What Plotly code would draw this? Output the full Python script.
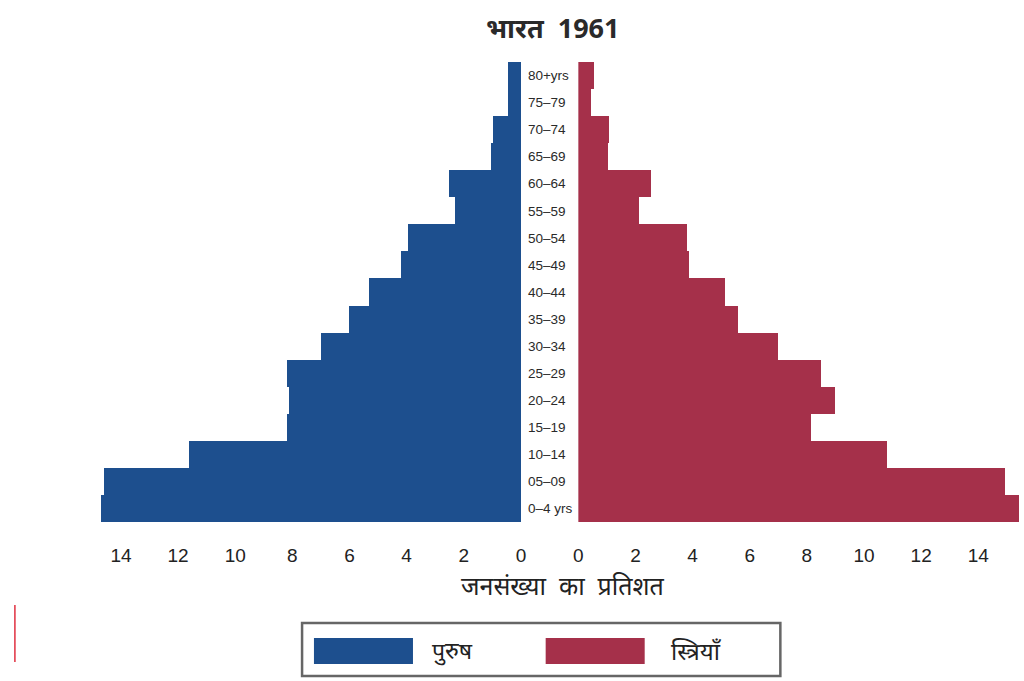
import plotly.graph_objects as go

W, H = 1024, 681

# Data (bottom -> top)
age_groups = ["0–4 yrs", "05–09", "10–14", "15–19", "20–24", "25–29", "30–34",
              "35–39", "40–44", "45–49", "50–54", "55–59", "60–64", "65–69",
              "70–74", "75–79", "80+yrs"]
male_pct = [14.7, 14.6, 11.6, 8.2, 8.1, 8.2, 7.0, 6.0, 5.3, 4.2, 3.95, 2.3, 2.5, 1.05, 0.98, 0.45, 0.45]
female_pct = [15.5, 14.95, 10.8, 8.15, 9.0, 8.5, 7.0, 5.6, 5.15, 3.9, 3.8, 2.15, 2.55, 1.05, 1.08, 0.45, 0.56]
tick_vals = [0, 2, 4, 6, 8, 10, 12, 14]
title_text = "भारत\u00a0\u00a01961"
xlabel_text = "जनसंख्या\u00a0 का\u00a0 प्रतिशत"
male_name = "पुरुष"
female_name = "स्त्रियाँ"

BLUE = "#1d4f8e"
RED = "#a5304a"
DEV_FONT = "Noto Sans, DejaVu Sans, sans-serif"


def px(x):
    return x / W


def py(y):
    return (H - y) / H


fig = go.Figure()
fig.add_trace(go.Bar(y=age_groups, x=male_pct, orientation="h", marker_color=BLUE,
                     marker_line_width=0, name=male_name, xaxis="x", yaxis="y",
                     showlegend=False))
fig.add_trace(go.Bar(y=age_groups, x=female_pct, orientation="h", marker_color=RED,
                     marker_line_width=0, name=female_name, xaxis="x2", yaxis="y2",
                     showlegend=False))

unit = 28.85
left_zero, right_zero = 521, 579
left_start = 94
xfont = dict(family="Liberation Sans, Arial, sans-serif", size=19, color="#222222")

fig.update_layout(
    width=W, height=H, autosize=False,
    margin=dict(l=0, r=0, t=0, b=0),
    paper_bgcolor="white", plot_bgcolor="white",
    bargap=0,
    xaxis=dict(domain=[px(left_start), px(left_zero)],
               range=[(left_zero - left_start) / unit, 0],
               tickvals=tick_vals, ticktext=[str(v) for v in tick_vals],
               showgrid=False, zeroline=False, showline=False, ticks="",
               tickfont=xfont, ticklabelstandoff=20),
    xaxis2=dict(domain=[px(right_zero), 1.0],
                range=[0, (W - right_zero) / unit],
                tickvals=tick_vals, ticktext=[str(v) for v in tick_vals],
                showgrid=False, zeroline=False, showline=False, ticks="",
                tickfont=xfont, ticklabelstandoff=20, anchor="y2"),
    yaxis=dict(domain=[py(522), py(62)], anchor="x", side="right",
               categoryorder="array", categoryarray=age_groups,
               showgrid=False, zeroline=False, showline=False, ticks="",
               ticklabelstandoff=6,
               tickfont=dict(family="Liberation Sans, Arial, sans-serif", size=13.5, color="#2a2a2a")),
    yaxis2=dict(domain=[py(522), py(62)], anchor="x2", matches="y",
                showticklabels=False, showgrid=False, zeroline=False,
                showline=False, ticks=""),
)

# title
fig.add_annotation(text="<b>" + title_text + "</b>", x=px(553), y=py(28), xref="paper", yref="paper",
                   showarrow=False, xanchor="center", yanchor="middle",
                   font=dict(family=DEV_FONT, size=27, color="#2a2a2a"))
# x-axis label
fig.add_annotation(text=xlabel_text, x=px(563), y=py(585), xref="paper", yref="paper",
                   showarrow=False, xanchor="center", yanchor="middle",
                   font=dict(family=DEV_FONT, size=25, color="#222222"))

# legend box
fig.add_shape(type="rect", xref="paper", yref="paper", x0=px(300), x1=px(783),
              y0=py(676), y1=py(623), line=dict(color="#666666", width=2.5), fillcolor="white")
fig.add_shape(type="rect", xref="paper", yref="paper", x0=px(312), x1=px(412),
              y0=py(664), y1=py(638), line=dict(width=0), fillcolor=BLUE)
fig.add_shape(type="rect", xref="paper", yref="paper", x0=px(546), x1=px(646),
              y0=py(664), y1=py(638), line=dict(width=0), fillcolor=RED)
fig.add_annotation(text=male_name, x=px(429), y=py(650), xref="paper", yref="paper",
                   showarrow=False, xanchor="left", yanchor="middle",
                   font=dict(family=DEV_FONT, size=23, color="#222222"))
fig.add_annotation(text=female_name, x=px(671), y=py(650), xref="paper", yref="paper",
                   showarrow=False, xanchor="left", yanchor="middle",
                   font=dict(family=DEV_FONT, size=24, color="#222222"))

# small red margin mark at left
fig.add_shape(type="line", xref="paper", yref="paper", x0=px(10), x1=px(10),
              y0=py(605), y1=py(662), line=dict(color="#e03040", width=1.5))

fig.write_html("out.html", config={"displayModeBar": False},
               post_script="document.body.style.margin='0';document.body.style.overflow='hidden';")
